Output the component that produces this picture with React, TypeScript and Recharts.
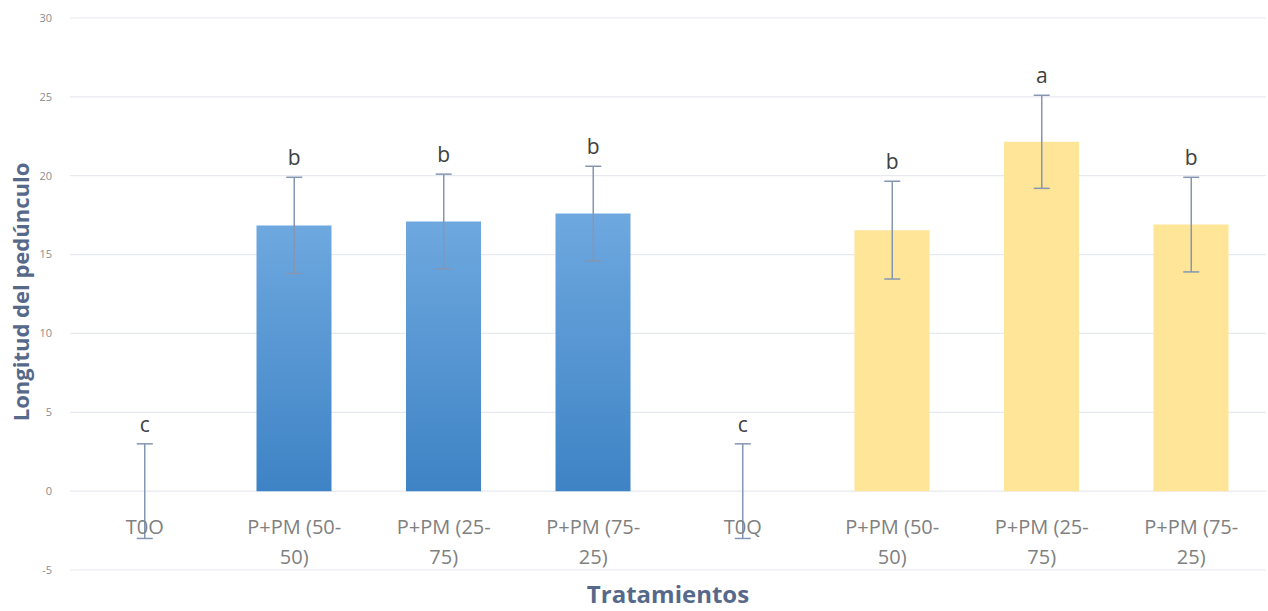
import React from 'react';
import {
  ComposedChart, Bar, Line, Cell, XAxis, YAxis, CartesianGrid, ErrorBar, Label,
} from 'recharts';

const categories = [
  'T0O', 'P+PM (50-50)', 'P+PM (25-75)', 'P+PM (75-25)',
  'T0Q', 'P+PM (50-50)', 'P+PM (25-75)', 'P+PM (75-25)',
];
const groups = ['blue', 'blue', 'blue', 'blue', 'yellow', 'yellow', 'yellow', 'yellow'];
const means = [0, 16.85, 17.1, 17.6, 0, 16.55, 22.15, 16.9];
const errors = [3, 3.05, 3, 3, 3, 3.1, 2.95, 3];
const letters = ['c', 'b', 'b', 'b', 'c', 'b', 'a', 'b'];
const yTicks = [-5, 0, 5, 10, 15, 20, 25, 30];

const data = categories.map((name, i) => ({
  key: `cat-${i}`,
  name,
  value: means[i],
  err: errors[i],
  top: means[i] + errors[i],
}));

const FONT = '"Open Sans", sans-serif';
const TITLE_COLOR = '#56698a';

function CategoryTick(props: any) {
  const { x, y, index } = props;
  const label = categories[index] ?? '';
  const cut = label.indexOf('-');
  const lines = cut >= 0 ? [label.slice(0, cut + 1), label.slice(cut + 1)] : [label];
  return (
    <text x={x} y={y - 36} textAnchor="middle" fill="#808080" fontSize={20} fontFamily={FONT}>
      {lines.map((l, i) => (
        <tspan key={i} x={x} dy={i === 0 ? 0 : 30}>{l}</tspan>
      ))}
    </text>
  );
}

function LetterLabel(props: any) {
  const { x, y, index } = props;
  return (
    <text x={x} y={y - 12} textAnchor="middle" fill="#404040" fontSize={21} fontFamily={FONT}>
      {letters[index]}
    </text>
  );
}

export default function App() {
  return (
    <div style={{ position: 'absolute', left: 0, top: 0, width: 1268, height: 611, background: '#fff' }}>
      <ComposedChart
        width={1268}
        height={611}
        data={data}
        margin={{ top: 18, right: 2, bottom: 0, left: 0 }}
        barSize={75}
      >
        <defs>
          <linearGradient id="blueGrad" x1="0" y1="0" x2="0" y2="1">
            <stop offset="0%" stopColor="#6ea8df" />
            <stop offset="100%" stopColor="#3e83c5" />
          </linearGradient>
        </defs>
        <CartesianGrid vertical={false} stroke="#e6e9ef" strokeWidth={1.2} />
        <XAxis
          dataKey="key"
          height={41}
          axisLine={false}
          tickLine={false}
          tickSize={0}
          tickMargin={0}
          interval={0}
          tick={<CategoryTick />}
        >
          <Label
            value="Tratamientos"
            position="insideBottom"
            offset={0}
            dy={-8}
            fill={TITLE_COLOR}
            fontSize={24}
            fontWeight="bold"
            fontFamily={FONT}
          />
        </XAxis>
        <YAxis
          width={70}
          domain={[-5, 30]}
          ticks={yTicks}
          axisLine={false}
          tickLine={false}
          tickSize={0}
          tickMargin={18}
          tick={{ fill: '#8c8c8c', fontSize: 11, fontFamily: FONT }}
        >
          <Label
            value="Longitud del pedúnculo"
            angle={-90}
            position="insideLeft"
            offset={21}
            dy={-2}
            style={{ textAnchor: 'middle' }}
            fill={TITLE_COLOR}
            fontSize={22}
            fontWeight="bold"
            fontFamily={FONT}
          />
        </YAxis>
        <Bar dataKey="value" isAnimationActive={false}>
          {data.map((d, i) => (
            <Cell key={d.key} fill={groups[i] === 'blue' ? 'url(#blueGrad)' : '#ffe597'} />
          ))}
        </Bar>
        <Line
          dataKey="value"
          stroke="none"
          dot={false}
          activeDot={false}
          legendType="none"
          isAnimationActive={false}
        >
          <ErrorBar dataKey="err" width={8} stroke="#8596b2" strokeWidth={1.5} direction="y" />
        </Line>
        <Line
          dataKey="top"
          stroke="none"
          dot={false}
          activeDot={false}
          legendType="none"
          isAnimationActive={false}
          label={<LetterLabel />}
        />
      </ComposedChart>
    </div>
  );
}
